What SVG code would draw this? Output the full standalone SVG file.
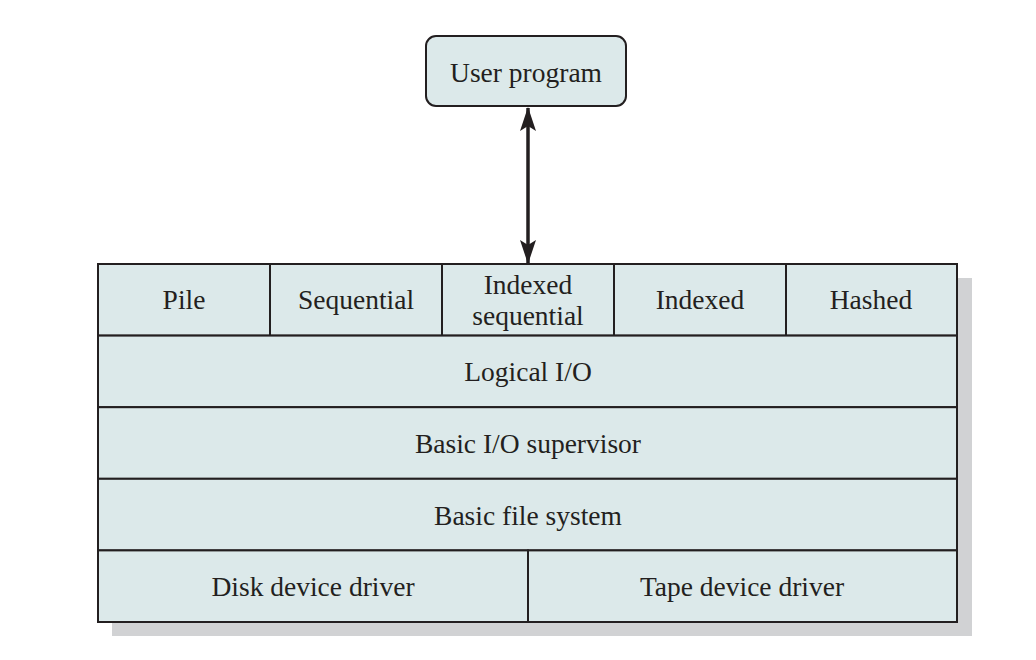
<svg xmlns="http://www.w3.org/2000/svg" width="1036" height="660" viewBox="0 0 1036 660">
<style>
.box{fill:#dce9ea;stroke:#231f20;stroke-width:2}
.t{font-family:"Liberation Serif","Times New Roman",serif;font-size:27.5px;fill:#231f20;text-anchor:middle}
.ln{stroke:#231f20;stroke-width:3.5;fill:none}
</style>
<defs>
<marker id="ah" viewBox="0 0 24 16" refX="23" refY="8" markerWidth="24" markerHeight="16" markerUnits="userSpaceOnUse" orient="auto-start-reverse">
<path d="M0,0 L24,8 L0,16 L5,8 Z" fill="#231f20"/>
</marker>
</defs>
<rect width="1036" height="660" fill="#ffffff"/>
<rect x="112" y="278" width="860" height="358" fill="#d1d2d4"/>
<g id="user-program">
<rect class="box" x="426" y="36" width="200" height="70" rx="10"/>
<text class="t" x="526" y="82">User program</text>
</g>
<g id="connectors">
<line class="ln" x1="528" y1="108" x2="528" y2="263" marker-start="url(#ah)" marker-end="url(#ah)"/>
</g>
<g id="pile">
<rect class="box" x="98" y="264" width="172" height="71.6"/>
<text class="t" x="184" y="309">Pile</text>
</g>
<g id="sequential">
<rect class="box" x="270" y="264" width="172" height="71.6"/>
<text class="t" x="356" y="309">Sequential</text>
</g>
<g id="indexed-sequential">
<rect class="box" x="442" y="264" width="172" height="71.6"/>
<text class="t" x="528" y="294">Indexed</text>
<text class="t" x="528" y="325">sequential</text>
</g>
<g id="indexed">
<rect class="box" x="614" y="264" width="172" height="71.6"/>
<text class="t" x="700" y="309">Indexed</text>
</g>
<g id="hashed">
<rect class="box" x="786" y="264" width="171" height="71.6"/>
<text class="t" x="871" y="309">Hashed</text>
</g>
<g id="logical-io">
<rect class="box" x="98" y="335.6" width="859" height="71.6"/>
<text class="t" x="528" y="381">Logical I/O</text>
</g>
<g id="basic-io-supervisor">
<rect class="box" x="98" y="407.2" width="859" height="71.6"/>
<text class="t" x="528" y="453">Basic I/O supervisor</text>
</g>
<g id="basic-file-system">
<rect class="box" x="98" y="478.8" width="859" height="71.6"/>
<text class="t" x="528" y="525">Basic file system</text>
</g>
<g id="disk-device-driver">
<rect class="box" x="98" y="550.4" width="430" height="71.6"/>
<text class="t" x="313" y="596">Disk device driver</text>
</g>
<g id="tape-device-driver">
<rect class="box" x="528" y="550.4" width="429" height="71.6"/>
<text class="t" x="742" y="596">Tape device driver</text>
</g>
</svg>
